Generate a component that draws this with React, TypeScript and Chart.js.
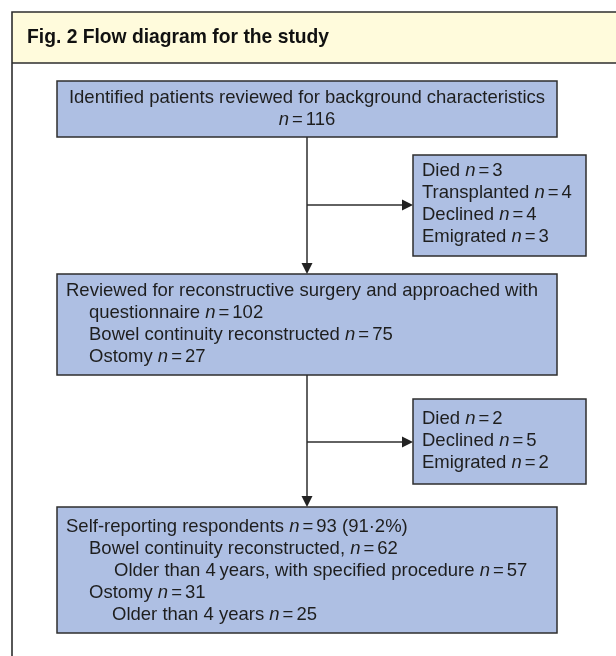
import React, { useEffect, useRef } from "react";
import { Chart, registerables } from "chart.js";

Chart.register(...registerables);

// ---------- data ----------
const titleText = "Fig. 2 Flow diagram for the study";

const stage1Label = "Identified patients reviewed for background characteristics";
const stage1N = 116;

const exclusion1Labels = ["Died", "Transplanted", "Declined", "Emigrated"];
const exclusion1Counts = [3, 4, 4, 3];

const stage2Heading = "Reviewed for reconstructive surgery and approached with";
const stage2Label = "questionnaire";
const stage2N = 102;
const stage2SubLabels = ["Bowel continuity reconstructed", "Ostomy"];
const stage2SubCounts = [75, 27];

const exclusion2Labels = ["Died", "Declined", "Emigrated"];
const exclusion2Counts = [2, 5, 2];

const stage3Label = "Self-reporting respondents";
const stage3N = 93;
const stage3Pct = "(91·2%)";
const stage3SubLabels = ["Bowel continuity reconstructed,", "Ostomy"];
const stage3SubCounts = [62, 31];
const stage3OlderLabels = ["Older than 4\u2009years, with specified procedure", "Older than 4 years"];
const stage3OlderCounts = [57, 25];

// ---------- layout (pixels in chart value space) ----------
const W = 616;
const H = 656;
const FONT = "'Liberation Sans', Arial, Helvetica, sans-serif";
const FS = 18.5;
const LINE = 22;
const BOX_FILL = "#aebfe3";
const EDGE = "#2e2e2e";
const TEXT = "#1e1e1e";

type Seg = { t?: string; it?: boolean; gap?: number };
type Line = { segs: Seg[]; x: number; align?: "left" | "center" };

function nPart(v: number | string): Seg[] {
  return [{ t: "n", it: true }, { gap: 3 }, { t: "=" }, { gap: 3 }, { t: String(v) }];
}
function labelN(label: string, v: number, suffix?: string): Seg[] {
  const s: Seg[] = [{ t: label + " " }, ...nPart(v)];
  if (suffix) s.push({ t: " " + suffix });
  return s;
}

function font(it?: boolean, bold?: boolean, size = FS) {
  return `${it ? "italic " : ""}${bold ? "bold " : ""}${size}px ${FONT}`;
}

function segWidth(ctx: CanvasRenderingContext2D, segs: Seg[]) {
  let w = 0;
  for (const s of segs) {
    if (s.gap) w += s.gap;
    else if (s.t) {
      ctx.font = font(s.it);
      w += ctx.measureText(s.t).width;
    }
  }
  return w;
}

function drawSegs(ctx: CanvasRenderingContext2D, segs: Seg[], x: number, y: number, align: "left" | "center") {
  let cx = x;
  if (align === "center") cx = x - segWidth(ctx, segs) / 2;
  ctx.textBaseline = "middle";
  ctx.textAlign = "left";
  ctx.fillStyle = TEXT;
  for (const s of segs) {
    if (s.gap) {
      cx += s.gap;
      continue;
    }
    if (!s.t) continue;
    ctx.font = font(s.it);
    ctx.fillText(s.t, cx, y);
    cx += ctx.measureText(s.t).width;
  }
}

const flowPlugin = {
  id: "flow",
  afterDraw(chart: any) {
    const ctx: CanvasRenderingContext2D = chart.ctx;
    const xs = chart.scales.x;
    const ys = chart.scales.y;
    const px = (v: number) => xs.getPixelForValue(v);
    const py = (v: number) => ys.getPixelForValue(v);

    ctx.save();
    // outer frame + header
    ctx.fillStyle = "#fffbdc";
    ctx.fillRect(px(12), py(12), px(W + 10) - px(12), py(63) - py(12));
    ctx.strokeStyle = EDGE;
    ctx.lineWidth = 1.6;
    ctx.beginPath();
    ctx.moveTo(px(W + 10), py(12));
    ctx.lineTo(px(12), py(12));
    ctx.lineTo(px(12), py(H + 10));
    ctx.moveTo(px(12), py(63));
    ctx.lineTo(px(W + 10), py(63));
    ctx.stroke();

    ctx.fillStyle = "#111";
    ctx.font = font(false, true, 19.3);
    ctx.textBaseline = "middle";
    ctx.textAlign = "left";
    ctx.fillText(titleText, px(27), py(38));

    const box = (x0: number, y0: number, x1: number, y1: number) => {
      ctx.fillStyle = BOX_FILL;
      ctx.fillRect(px(x0), py(y0), px(x1) - px(x0), py(y1) - py(y0));
      ctx.strokeStyle = EDGE;
      ctx.lineWidth = 1.5;
      ctx.strokeRect(px(x0), py(y0), px(x1) - px(x0), py(y1) - py(y0));
    };
    const lines = (ls: Line[], y0: number) => {
      ls.forEach((l, i) => drawSegs(ctx, l.segs, px(l.x), py(y0 + i * LINE), l.align || "left"));
    };
    const seg = (x0: number, y0: number, x1: number, y1: number) => {
      ctx.strokeStyle = EDGE;
      ctx.lineWidth = 1.5;
      ctx.beginPath();
      ctx.moveTo(px(x0), py(y0));
      ctx.lineTo(px(x1), py(y1));
      ctx.stroke();
    };
    const headDown = (x: number, y: number) => {
      ctx.fillStyle = "#222";
      ctx.beginPath();
      ctx.moveTo(px(x), py(y));
      ctx.lineTo(px(x - 5.5), py(y - 11));
      ctx.lineTo(px(x + 5.5), py(y - 11));
      ctx.closePath();
      ctx.fill();
    };
    const headRight = (x: number, y: number) => {
      ctx.fillStyle = "#222";
      ctx.beginPath();
      ctx.moveTo(px(x), py(y));
      ctx.lineTo(px(x - 11), py(y - 5.5));
      ctx.lineTo(px(x - 11), py(y + 5.5));
      ctx.closePath();
      ctx.fill();
    };

    const cx = 307;
    // connectors
    seg(cx, 137, cx, 264);
    headDown(cx, 274);
    seg(cx, 205, 403, 205);
    headRight(413, 205);
    seg(cx, 375, cx, 497);
    headDown(cx, 507);
    seg(cx, 442, 403, 442);
    headRight(413, 442);

    // stage 1
    box(57, 81, 557, 137);
    lines(
      [
        { segs: [{ t: stage1Label }], x: cx, align: "center" },
        { segs: nPart(stage1N), x: cx, align: "center" },
      ],
      98
    );

    // exclusion 1
    box(413, 155, 586, 256);
    lines(
      exclusion1Labels.map((l, i) => ({ segs: labelN(l, exclusion1Counts[i]), x: 422 })),
      170.5
    );

    // stage 2
    box(57, 274, 557, 375);
    lines(
      [
        { segs: [{ t: stage2Heading }], x: 66 },
        { segs: labelN(stage2Label, stage2N), x: 89 },
        ...stage2SubLabels.map((l, i) => ({ segs: labelN(l, stage2SubCounts[i]), x: 89 })),
      ],
            290.5
    );

    // exclusion 2
    box(413, 399, 586, 484);
    lines(
      exclusion2Labels.map((l, i) => ({ segs: labelN(l, exclusion2Counts[i]), x: 422 })),
      419
    );

    // stage 3
    box(57, 507, 557, 633);
    lines(
      [
        { segs: labelN(stage3Label, stage3N, stage3Pct), x: 66 },
        { segs: labelN(stage3SubLabels[0], stage3SubCounts[0]), x: 89 },
        { segs: labelN(stage3OlderLabels[0], stage3OlderCounts[0]), x: 114 },
        { segs: labelN(stage3SubLabels[1], stage3SubCounts[1]), x: 89 },
        { segs: labelN(stage3OlderLabels[1], stage3OlderCounts[1]), x: 112 },
      ],
      527
    );
    ctx.restore();
  },
};

export default function App() {
  const ref = useRef<HTMLCanvasElement | null>(null);
  useEffect(() => {
    if (!ref.current) return;
    const chart = new Chart(ref.current, {
      type: "scatter",
      data: { datasets: [{ data: [], pointRadius: 0 }] },
      options: {
        animation: false,
        responsive: false,
        devicePixelRatio: 1,
        layout: { padding: 0 },
        plugins: { legend: { display: false }, tooltip: { enabled: false } },
        scales: {
          x: { type: "linear", min: 0, max: W, display: false },
          y: { type: "linear", min: 0, max: H, reverse: true, display: false },
        },
      },
      plugins: [flowPlugin],
    });
    return () => chart.destroy();
  }, []);
  return (
    <div style={{ position: "absolute", left: 0, top: 0, width: W, height: H, background: "#fff" }}>
      <canvas ref={ref} width={W} height={H} style={{ display: "block" }} />
    </div>
  );
}
